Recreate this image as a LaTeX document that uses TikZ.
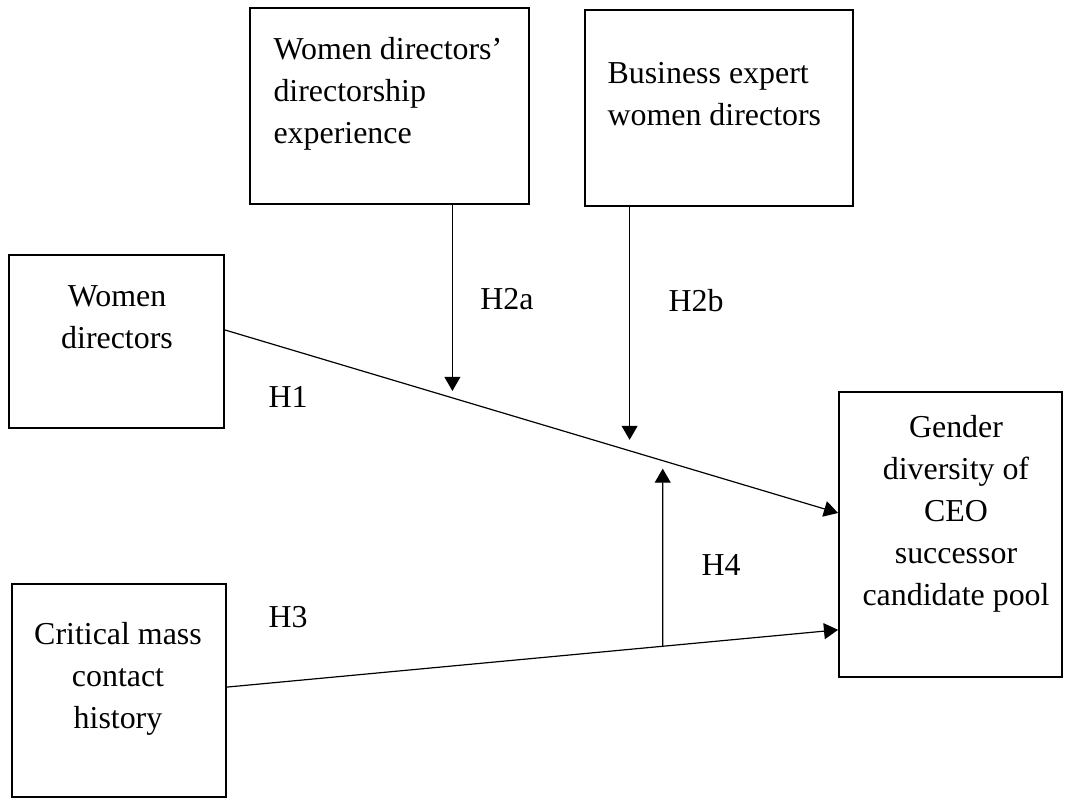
\documentclass[tikz,border=0pt]{standalone}
\usepackage{fontspec}
\setmainfont{Liberation Serif}
\usetikzlibrary{arrows.meta,calc}

\begin{document}
\begin{tikzpicture}[x=0.376pt, y=-0.376pt]

% Styles
\tikzset{
    varbox/.style={rectangle, draw, line width=0.75pt, inner sep=0pt},
    vartext/.style={inner sep=0pt, font=\fontsize{12}{15.8}\selectfont},
    hyp/.style={inner sep=0pt, anchor=base, font=\fontsize{12}{14}\selectfont},
    link/.style={-{Triangle[length=5.3pt, width=6pt]}, line width=0.45pt}
}

\useasboundingbox (0,0) rectangle (1065,799);

% Moderators on top
\node[varbox, minimum width=104.9pt, minimum height=73.7pt] (expbox) at (389.5, 106) {};
\node[varbox, minimum width=100.8pt, minimum height=73.7pt] (bizbox) at (719, 108) {};
\node[vartext, anchor=north west, align=left] (exptext) at (273, 37) {Women directors'\\directorship\\experience};
\node[vartext, anchor=north west, align=left] (biztext) at (607, 62) {Business expert\\women directors};

% Independent variables
\node[varbox, minimum width=80.8pt, minimum height=65pt] (wdbox) at (116.5, 341.5) {};
\node[varbox, minimum width=80.5pt, minimum height=80.1pt] (cmbox) at (119, 690.5) {};
\node[vartext, anchor=north, align=center] (wdtext) at (117, 285) {Women\\directors};
\node[vartext, anchor=north, align=center] (cmtext) at (118, 622) {Critical mass\\contact\\history};

% Outcome
\node[varbox, minimum width=83.8pt, minimum height=107.2pt] (gdbox) at (950.5, 534.5) {};
\node[vartext, anchor=north, align=center] (gdtext) at (956, 415) {Gender\\diversity of\\CEO\\successor\\candidate pool};

% Main effects
\draw[link] ($(wdbox.north east)!0.434!(wdbox.south east)$) -- ($(gdbox.north west)!0.425!(gdbox.south west)$)
    coordinate[pos=0.371] (mod2a) coordinate[pos=0.660] (mod2b) coordinate[pos=0.714] (mod4);
\draw[link] ($(cmbox.north east)!0.484!(cmbox.south east)$) -- ($(gdbox.north west)!0.832!(gdbox.south west)$)
    coordinate[pos=0.713] (base4);

% Moderating arrows
\draw[link, shorten >=2.6pt] (expbox.south -| mod2a) -- (mod2a);
\draw[link, shorten >=4.1pt] (bizbox.south -| mod2b) -- (mod2b);
\draw[link, shorten >=3pt] (base4) -- (mod4);

% Hypotheses
\node[hyp] (h1) at (288, 407) {H1};
\node[hyp] (h2a) at (507, 309) {H2a};
\node[hyp] (h2b) at (696, 311) {H2b};
\node[hyp] (h3) at (288, 627) {H3};
\node[hyp] (h4) at (721, 575) {H4};

\end{tikzpicture}
\end{document}
